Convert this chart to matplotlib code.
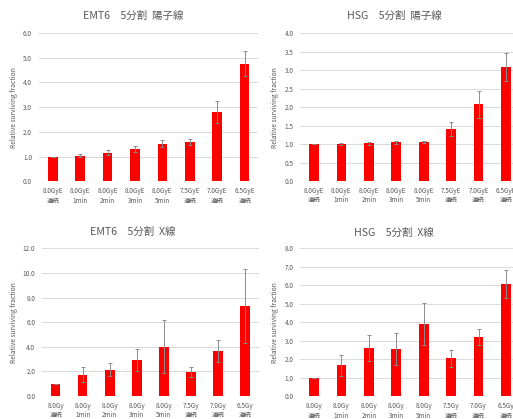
import numpy as np
import matplotlib.pyplot as plt

plt.rcParams['font.family'] = ['Noto Sans CJK JP', 'DejaVu Sans']

W, H = 513, 419
TEXT_GRAY = '#595959'
GRID_GRAY = '#d9d9d9'

labels_proton = ['8.0GyE\n連続', '8.0GyE\n1min', '8.0GyE\n2min', '8.0GyE\n3min',
                 '8.0GyE\n5min', '7.5GyE\n連続', '7.0GyE\n連続', '6.5GyE\n連続']
labels_xray = ['8.0Gy\n連続', '8.0Gy\n1min', '8.0Gy\n2min', '8.0Gy\n3min',
               '8.0Gy\n5min', '7.5Gy\n連続', '7.0Gy\n連続', '6.5Gy\n連続']

emt6_proton = [1.00, 1.04, 1.16, 1.31, 1.52, 1.60, 2.79, 4.76]
emt6_proton_err = [0.0, 0.05, 0.09, 0.11, 0.14, 0.12, 0.44, 0.50]
hsg_proton = [1.00, 1.00, 1.02, 1.05, 1.05, 1.41, 2.08, 3.10]
hsg_proton_err = [0.0, 0.03, 0.04, 0.04, 0.03, 0.20, 0.37, 0.38]
emt6_xray = [0.97, 1.73, 2.14, 2.90, 4.01, 1.98, 3.66, 7.34]
emt6_xray_err = [0.0, 0.60, 0.52, 0.90, 2.14, 0.40, 0.87, 3.01]
hsg_xray = [1.00, 1.68, 2.63, 2.56, 3.91, 2.05, 3.21, 6.05]
hsg_xray_err = [0.0, 0.57, 0.70, 0.86, 1.12, 0.47, 0.45, 0.76]


def px_rect(left, top, right, bottom):
    # pixel box -> figure fraction [l, b, w, h]
    return [left / W, (H - bottom) / H, (right - left) / W, (bottom - top) / H]


def panel(fig, box, title, title_xy, vals, errs, labels, ymax, ystep):
    ax = fig.add_axes(px_rect(*box))
    x = np.arange(len(vals))
    ax.bar(x, vals, width=0.35, color='#ff0000', zorder=2)
    ax.errorbar(x, vals, yerr=errs, fmt='none', ecolor='#8c8c8c',
                elinewidth=0.7, capsize=1.6, capthick=0.7, zorder=3)
    ax.set_xlim(-0.5, len(vals) - 0.5)
    ax.set_ylim(0, ymax)
    ax.set_yticks(np.arange(0, ymax + ystep / 2, ystep))
    ax.set_yticklabels(['%.1f' % t for t in ax.get_yticks()])
    ax.set_xticks(x)
    ax.set_xticklabels(labels, linespacing=1.3)
    ax.tick_params(axis='both', length=0, labelsize=4.6, colors=TEXT_GRAY)
    ax.tick_params(axis='y', pad=5)
    ax.tick_params(axis='x', pad=4)
    ax.grid(axis='y', color=GRID_GRAY, linewidth=0.7, zorder=0)
    ax.set_axisbelow(True)
    for s in ax.spines.values():
        s.set_visible(False)
    ax.set_ylabel('Relative surviving fraction', fontsize=4.8, color=TEXT_GRAY,
                  labelpad=3.5)
    fig.text(title_xy[0] / W, 1 - title_xy[1] / H, title, ha='center',
             va='center', fontsize=7.6, color=TEXT_GRAY)
    return ax


fig = plt.figure(figsize=(W / 100, H / 100), dpi=100)

panel(fig, (39, 33, 258.4, 181.3), 'EMT6　5分割  陽子線', (133, 16),
      emt6_proton, emt6_proton_err, labels_proton, 6.0, 1.0)
panel(fig, (300.3, 33.3, 519.7, 181), 'HSG　5分割  陽子線', (394, 16),
      hsg_proton, hsg_proton_err, labels_proton, 4.0, 0.5)
panel(fig, (42.2, 248.3, 258.5, 396), 'EMT6　5分割  X線', (133, 232),
      emt6_xray, emt6_xray_err, labels_xray, 12.0, 2.0)
panel(fig, (300.3, 248.3, 519.7, 396.3), 'HSG　5分割  X線', (394, 233),
      hsg_xray, hsg_xray_err, labels_xray, 8.0, 1.0)

fig.savefig('out.png', dpi=100)
